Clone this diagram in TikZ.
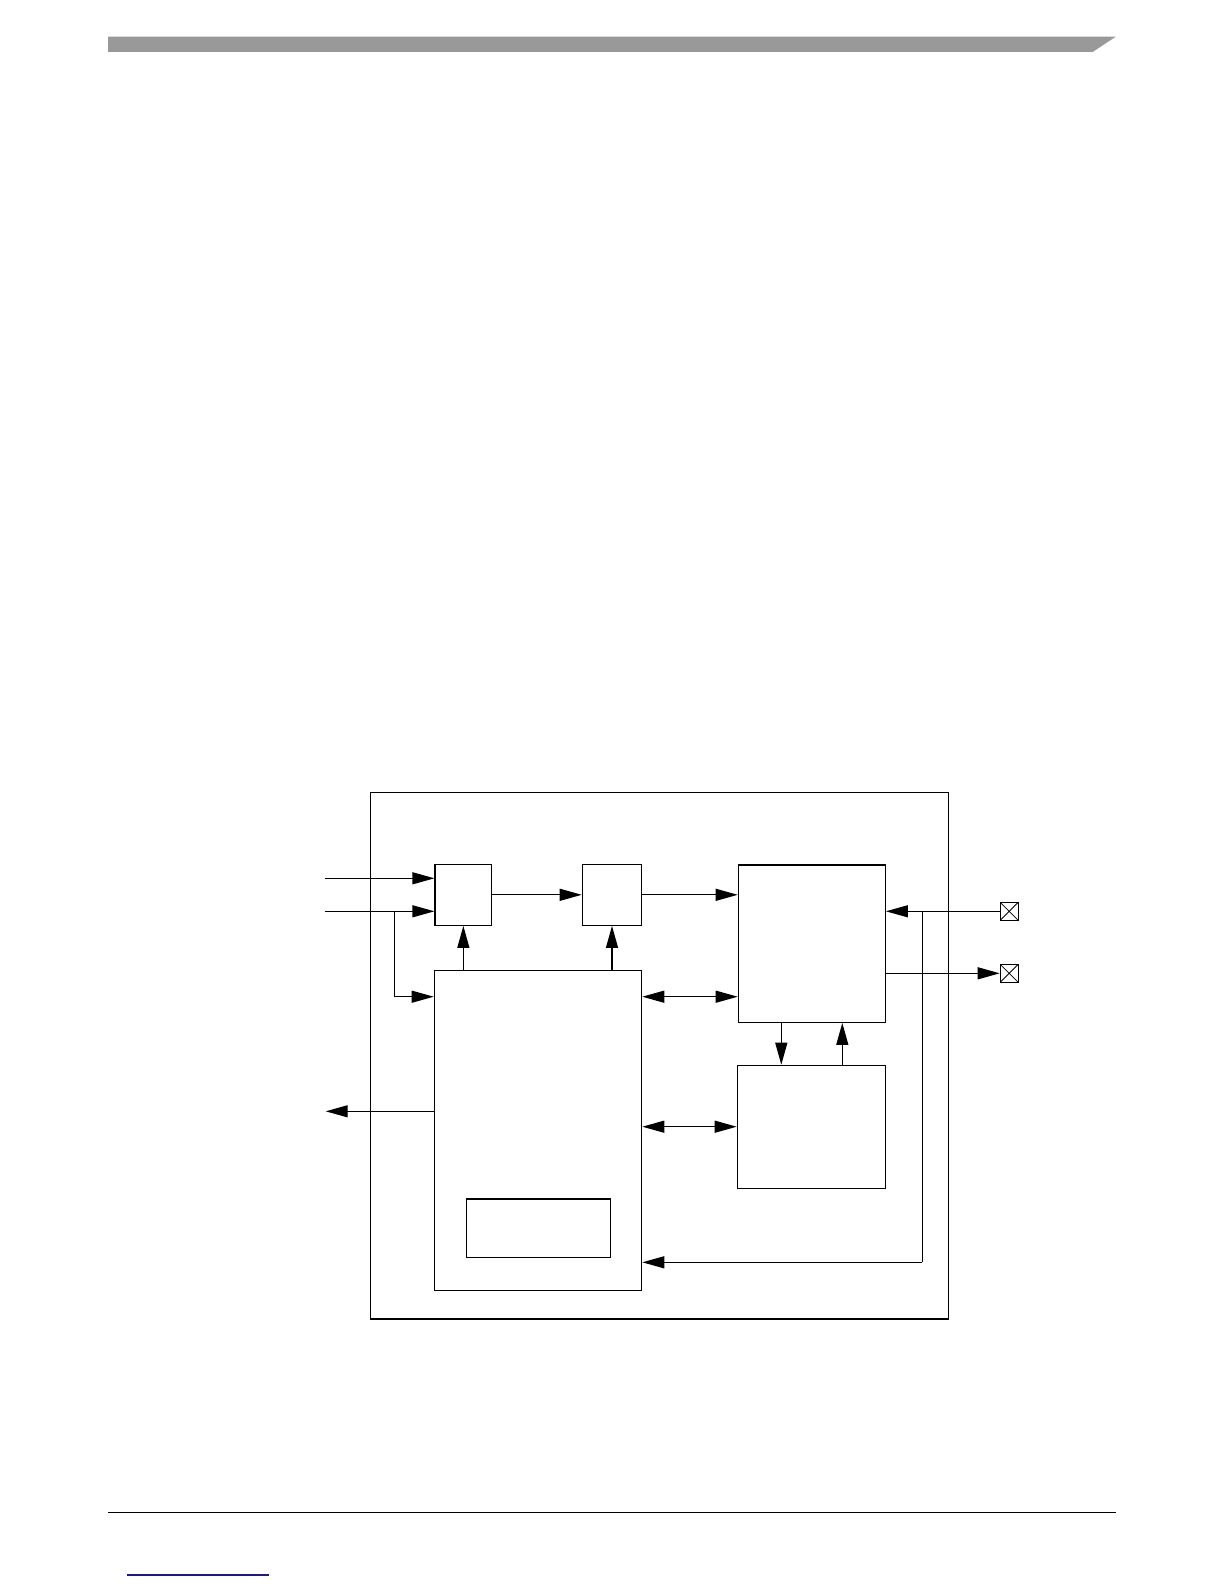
\documentclass[tikz,border=0pt]{standalone}
\usetikzlibrary{arrows.meta,fit,calc}
\definecolor{bargray}{HTML}{999999}
\definecolor{linkblue}{HTML}{1A1A8C}
\tikzset{
  blk/.style={draw=black, line width=0.9pt, inner sep=0pt, fill=none},
  arr/.style={line width=0.9pt, -{Triangle[length=16.5pt,width=9pt]}},
  biarr/.style={line width=0.9pt, {Triangle[length=16.5pt,width=9pt]}-{Triangle[length=16.5pt,width=9pt]}},
  wire/.style={line width=0.9pt},
  pin/.style={draw=black, line width=0.8pt, minimum size=13.5pt, inner sep=0pt,
    path picture={\draw[line width=0.6pt] (path picture bounding box.south west) -- (path picture bounding box.north east)
      (path picture bounding box.north west) -- (path picture bounding box.south east);}}
}
\begin{document}
\begin{tikzpicture}[x=0.75pt,y=-0.75pt]
\useasboundingbox (0,0) rectangle (1224,1584);
% header bar
\fill[bargray] (108,36.7) -- (1115.7,36.7) -- (1092.7,52) -- (108,52) -- cycle;
% footer
\draw[line width=1pt] (108,1512.3) -- (1116,1512.3);
\draw[linkblue, line width=0.9pt] (127,1575) -- (269,1575);

% outer box
\node[blk, fit={(370.3,792.3) (948.3,1319)}] (outer) {};
% blocks
\node[blk, fit={(435,864.3) (491.7,925.3)}] (A) {};
\node[blk, fit={(582.3,864.3) (641.7,925.3)}] (B) {};
\node[blk, fit={(434.3,970.3) (641.7,1290.3)}] (C) {};
\node[blk, fit={(738.3,865) (885.3,1022.3)}] (D) {};
\node[blk, fit={(737.3,1065.3) (885.3,1188.3)}] (E) {};
\node[blk, fit={(466.3,1199) (610.7,1257.3)}] (F) {};
% pins
\node[pin] (P1) at (1009.2,911.3) {};
\node[pin] (P2) at (1009.2,973.3) {};

% helper coordinates
\coordinate (in1) at (325,878.3);
\coordinate (in2) at (325,911.3);
\coordinate (br) at (394.3,911.3);
\coordinate (yc) at (0,996.7);
\coordinate (ye) at (0,1126.7);
\coordinate (out) at (325.7,1111.3);
\coordinate (vx) at (922.3,911.3);
\coordinate (vb) at (922.3,1262.3);
\coordinate (xde) at (781.3,0);
\coordinate (xed) at (842.3,0);

% connections
\draw[arr] (in1) -- (in1 -| A.west);
\draw[arr] (in2) -- (in2 -| A.west);
\draw[arr] (br) |- (yc -| C.west);
\draw[arr] (A.east) -- (A.east -| B.west);
\draw[arr] (B.east) -- (B.east -| D.west);
\draw[arr] (C.north -| A.south) -- (A.south);
\draw[arr] (C.north -| B.south) -- (B.south);
\draw[biarr] (yc -| C.east) -- (yc -| D.west);
\draw[biarr] (ye -| C.east) -- (ye -| E.west);
\draw[arr] (D.south -| xde) -- (E.north -| xde);
\draw[arr] (E.north -| xed) -- (D.south -| xed);
\draw[arr] (out -| C.west) -- (out);
\draw[arr] (P1.west) -- (P1.west -| D.east);
\draw[wire] (vx) -- (vb);
\draw[arr] (vb) -- (vb -| C.east);
\draw[arr] (P2.west -| D.east) -- (P2.west);
\end{tikzpicture}
\end{document}
